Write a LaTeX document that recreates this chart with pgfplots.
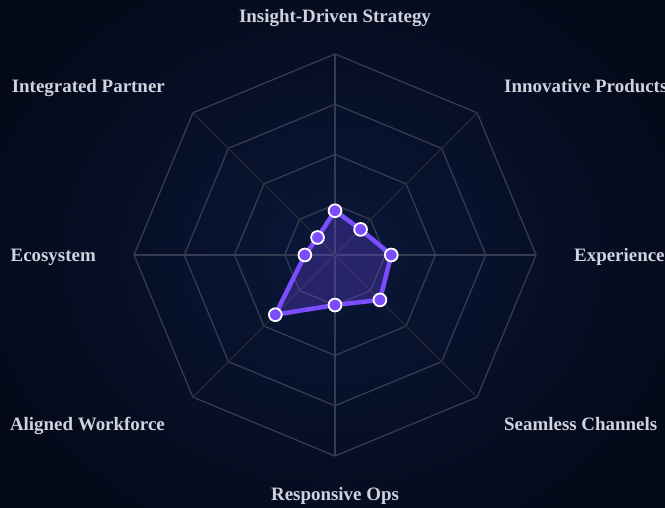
\documentclass[border=0pt]{standalone}
\usepackage{pgfplots}
\pgfplotsset{compat=1.18}
\usepackage{fontspec}
\setmainfont{Liberation Serif}
\definecolor{bgin}{HTML}{0A1738}
\definecolor{bgout}{HTML}{040918}
\definecolor{ring}{HTML}{353B50}
\definecolor{diag}{HTML}{252933}
\definecolor{series}{HTML}{7B4DFF}
\definecolor{lbl}{HTML}{D0D3DD}
\begin{document}
\begin{tikzpicture}[x=1bp,y=1bp]
\path[use as bounding box] (0,0) rectangle (665,508);
\clip (0,0) rectangle (665,508);
\shade[inner color=bgin, outer color=bgout] (-60,-80) rectangle (725,588);
\begin{axis}[at={(335bp,253bp)}, anchor=center, hide axis, scale only axis,
  width=402bp, height=402bp, xmin=-100, xmax=100, ymin=-100, ymax=100, clip=false]
% rings
\foreach \r in {25,50,75,100}{
  \edef\temp{\noexpand\addplot[ring, line width=1.3bp, data cs=polar, mark=none] coordinates {(0,\r)(45,\r)(90,\r)(135,\r)(180,\r)(225,\r)(270,\r)(315,\r)(360,\r)};}
  \temp
}
% spokes
\addplot[ring, line width=1.3bp, data cs=polar, mark=none] coordinates {(0,100)(180,100)};
\addplot[ring, line width=1.3bp, data cs=polar, mark=none] coordinates {(90,100)(270,100)};
\addplot[diag, line width=1.3bp, data cs=polar, mark=none] coordinates {(45,100)(225,100)};
\addplot[diag, line width=1.3bp, data cs=polar, mark=none] coordinates {(135,100)(315,100)};
% data
\addplot[series, line width=4.5bp, line join=round, fill=series, fill opacity=0.27, draw opacity=1,
  data cs=polar, mark=none]
  coordinates {(90,22)(45,18)(0,28)(-45,31.6)(-90,24.9)(-135,42)(180,15)(135,12.3)(90,22)};
\addplot[only marks, data cs=polar, mark=*, mark size=6.4bp,
  mark options={fill=series, draw=white, line width=1.8bp}]
  coordinates {(90,22)(45,18)(0,28)(-45,31.6)(-90,24.9)(-135,42)(180,15)(135,12.3)};
\end{axis}
\begin{scope}[every node/.style={text=lbl, inner sep=0pt, font=\fontsize{19}{22}\selectfont\bfseries}]
\node[anchor=base] at (335,485) {Insight-Driven Strategy};
\node[anchor=base east] at (165,415) {Integrated Partner};
\node[anchor=base west] at (504,415) {Innovative Products};
\node[anchor=base east] at (96,246) {Ecosystem};
\node[anchor=base west] at (574,246) {Experience};
\node[anchor=base east] at (165,77) {Aligned Workforce};
\node[anchor=base west] at (504,77) {Seamless Channels};
\node[anchor=base] at (335,7) {Responsive Ops};
\end{scope}
\end{tikzpicture}
\end{document}
